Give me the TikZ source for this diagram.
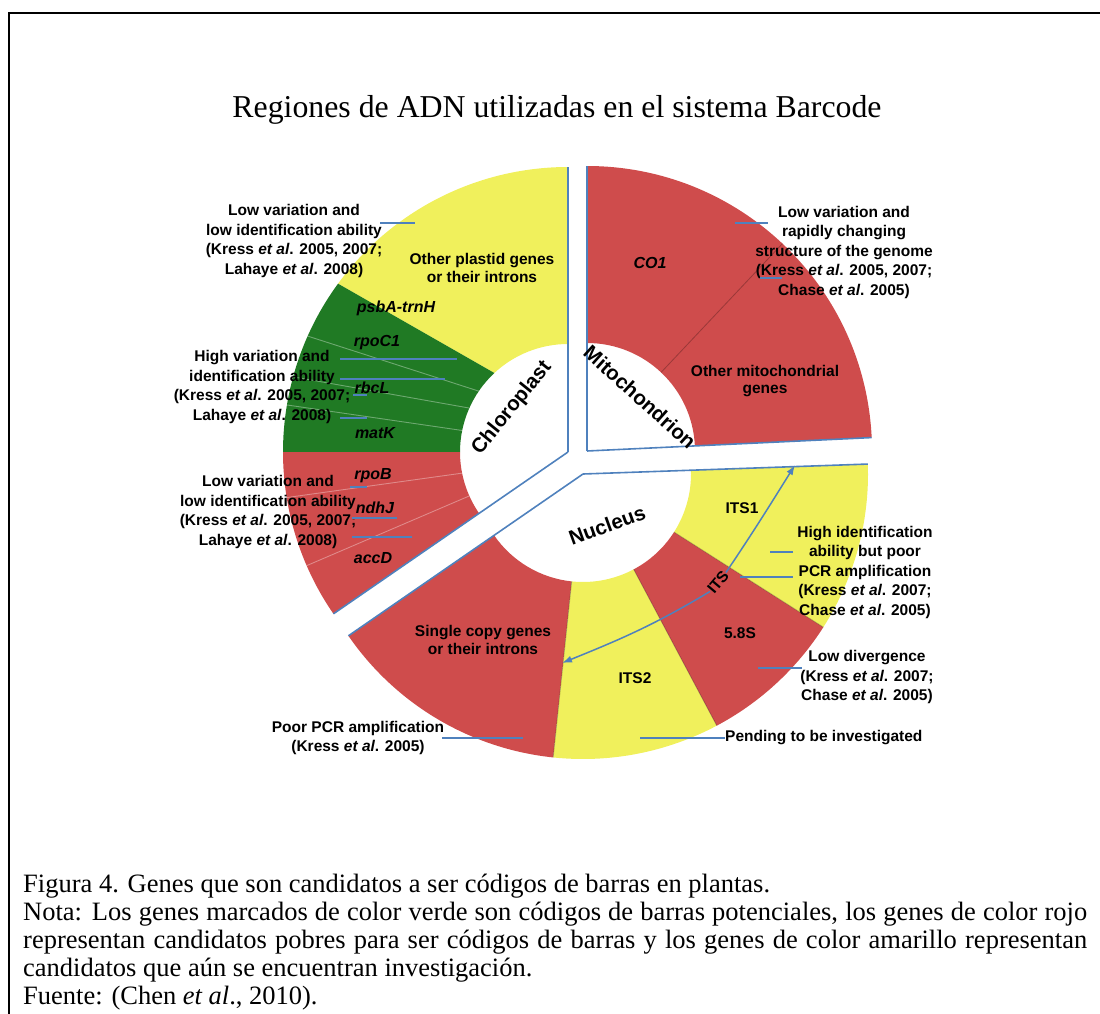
\documentclass[tikz,border=0pt]{standalone}
\usepackage{fontspec}
\setmainfont{Liberation Serif}
\setsansfont{Liberation Sans}
\usepackage{tikz}
\usetikzlibrary{arrows.meta}
\definecolor{slicered}{RGB}{207,76,76}
\definecolor{sliceyellow}{RGB}{240,240,92}
\definecolor{slicegreen}{RGB}{32,122,36}
\definecolor{edgeblue}{RGB}{79,129,189}

\begin{document}
\begin{tikzpicture}[x=1pt,y=1pt,
    note/.style={font=\sffamily\bfseries\fontsize{15.5}{19.5}\selectfont,align=center,inner sep=0pt},
    gene/.style={font=\sffamily\bfseries\itshape\fontsize{16}{19}\selectfont,inner sep=0pt},
    part/.style={font=\sffamily\bfseries\fontsize{15.5}{17.5}\selectfont,align=center,inner sep=0pt},
    organelle/.style={font=\sffamily\bfseries\fontsize{20.5}{24}\selectfont,inner sep=0pt},
    caption/.style={font=\fontsize{26.5}{28}\selectfont,inner sep=0pt,anchor=base west},
    lead/.style={edgeblue,line width=1.2pt},
    wall/.style={edgeblue,line width=1.6pt},
    seam/.style={white,opacity=0.35,line width=0.9pt},
    darkseam/.style={black,opacity=0.25,line width=0.8pt},
    itsarrow/.style={edgeblue,line width=1.5pt,-{Latex[length=10pt,width=7pt]}}]
\useasboundingbox (0,0) rectangle (1100,-1014);
% frame
\draw[line width=2.5pt] (9,-1014) -- (9,-13) -- (1100,-13);
\node[font=\fontsize{31.8}{36}\selectfont,anchor=base,inner sep=0pt] (title) at (557,-118) {Regiones de ADN utilizadas en el sistema Barcode};

% chloroplast
\begin{scope}[shift={(568,-452)}]
  \fill[sliceyellow] (90:285) arc[start angle=90,end angle=143.8,radius=285] -- (133:108) arc[start angle=133,end angle=90,radius=108] -- cycle;
  \fill[slicegreen] (143.8:285) arc[start angle=143.8,end angle=180,radius=285] -- (180:108) arc[start angle=180,end angle=133,radius=108] -- cycle;
  \fill[slicered] (180:285) arc[start angle=180,end angle=214.6,radius=285] -- (214.6:108) arc[start angle=214.6,end angle=180,radius=108] -- cycle;
  \draw[seam] (156:285) -- (145.7:108);
  \draw[seam] (164.7:285) -- (156:108);
  \draw[seam] (170.5:285) -- (168.5:108);
  \draw[seam] (189.2:285) -- (191.3:108);
  \draw[seam] (203.5:285) -- (204:108);
  \draw[wall] (0,0) -- (90:285);
  \draw[wall] (0,0) -- (214.6:285);
\end{scope}

% mitochondrion
\begin{scope}[shift={(587,-451)}]
  \fill[slicered] (2.7:285) arc[start angle=2.7,end angle=90,radius=285] -- (90:108) arc[start angle=90,end angle=2.7,radius=108] -- cycle;
  \draw[darkseam] (46.7:108) -- (46.7:285);
  \draw[wall] (0,0) -- (90:285);
  \draw[wall] (0,0) -- (2.7:285);
\end{scope}

% nucleus
\begin{scope}[shift={(583,-474)}]
  \fill[slicered] (214.6:285) arc[start angle=214.6,end angle=264,radius=285] -- (264:108) arc[start angle=264,end angle=214.6,radius=108] -- cycle;
  \fill[sliceyellow] (264:285) arc[start angle=264,end angle=298,radius=285] -- (298:108) arc[start angle=298,end angle=264,radius=108] -- cycle;
  \fill[slicered] (298:285) arc[start angle=298,end angle=327.5,radius=285] -- (327.5:108) arc[start angle=327.5,end angle=298,radius=108] -- cycle;
  \fill[sliceyellow] (327.5:285) arc[start angle=327.5,end angle=362,radius=285] -- (362:108) arc[start angle=362,end angle=327.5,radius=108] -- cycle;
  \draw[darkseam] (264:108) -- (264:285);
  \draw[darkseam] (298:108) -- (298:285);
  \draw[darkseam] (327.5:108) -- (327.5:285);
  \draw[wall] (0,0) -- (214.6:285);
  \draw[wall] (0,0) -- (2:285);
\end{scope}

% organelle names
\node[organelle,rotate=51] (chloro) at (512,-408) {Chloroplast};
\node[organelle,rotate=-42] (mito) at (640,-397) {Mitochondrion};
\node[organelle,rotate=20] (nucleus) at (607,-525) {Nucleus};

% gene names
\node[part] (plastid) at (482,-268) {Other plastid genes\\or their introns};
\node[gene] (psbA) at (396,-308) {psbA-trnH};
\node[gene] (rpoC) at (377,-343) {rpoC1};
\node[gene] (rbcL) at (372,-388) {rbcL};
\node[gene] (matK) at (375,-433) {matK};
\node[gene] (rpoB) at (373,-476) {rpoB};
\node[gene] (ndhJ) at (375,-508) {ndhJ};
\node[gene] (accD) at (373,-558) {accD};
\node[gene] (coi) at (650,-263) {CO1};
\node[part] (othermito) at (765,-381) {Other mitochondrial\\genes};
\node[part] (single) at (483,-640) {Single copy genes\\or their introns};
\node[part] (its1) at (742,-508) {ITS1};
\node[part] (its58) at (740,-633) {5.8S};
\node[part] (its2) at (635,-678) {ITS2};
\node[part,rotate=50] (its) at (718,-582) {ITS};

% ITS span
\coordinate (itsTop) at (795,-465);
\coordinate (itsLow) at (562,-663);
\draw[itsarrow] (its.east) to[out=56,in=238] (itsTop);
\draw[itsarrow] (its.west) to[out=211,in=22] (itsLow);

% notes
\node[note] (lowA) at (294,-241) {Low variation and\\low identification ability\\(Kress \textit{et al}. 2005, 2007;\\Lahaye \textit{et al}. 2008)};
\node[note] (highB) at (262,-387) {High variation and\\identification ability\\(Kress \textit{et al}. 2005, 2007;\\Lahaye \textit{et al}. 2008)};
\node[note] (lowC) at (268,-512) {Low variation and\\low identification ability\\(Kress \textit{et al}. 2005, 2007;\\Lahaye \textit{et al}. 2008)};
\node[note] (poorD) at (358,-738) {Poor PCR amplification\\(Kress \textit{et al}. 2005)};
\node[note] (lowE) at (844,-252) {Low variation and\\rapidly changing\\structure of the genome\\(Kress \textit{et al}. 2005, 2007;\\Chase \textit{et al}. 2005)};
\node[note] (highF) at (865,-572) {High identification\\ability but poor\\PCR amplification\\(Kress \textit{et al}. 2007;\\Chase \textit{et al}. 2005)};
\node[note] (lowG) at (867,-677) {Low divergence\\(Kress \textit{et al}. 2007;\\Chase \textit{et al}. 2005)};
\node[note,anchor=west] (pendH) at (725,-738) {Pending to be investigated};

% leaders
\coordinate (a1) at (380,-223); \coordinate (a2) at (415,-223);
\coordinate (b1) at (340,-359); \coordinate (b2) at (457,-359);
\coordinate (b3) at (340,-379); \coordinate (b4) at (445,-379);
\coordinate (b5) at (353,-395); \coordinate (b6) at (367,-395);
\coordinate (b7) at (340,-418); \coordinate (b8) at (367,-418);
\coordinate (c1) at (350,-487); \coordinate (c2) at (367,-487);
\coordinate (c3) at (352,-518); \coordinate (c4) at (397,-518);
\coordinate (c5) at (352,-537); \coordinate (c6) at (412,-537);
\coordinate (d1) at (442,-738); \coordinate (d2) at (523,-738);
\coordinate (e1) at (735,-223); \coordinate (e2) at (768,-223);
\coordinate (e3) at (760,-278); \coordinate (e4) at (782,-278);
\coordinate (f1) at (770,-552); \coordinate (f2) at (793,-552);
\coordinate (f3) at (740,-577); \coordinate (f4) at (793,-577);
\coordinate (g1) at (758,-668); \coordinate (g2) at (802,-668);
\coordinate (h1) at (640,-738);
\draw[lead] (a1) -- (a2);
\draw[lead] (b1) -- (b2);
\draw[lead] (b3) -- (b4);
\draw[lead] (b5) -- (b6);
\draw[lead] (b7) -- (b8);
\draw[lead] (c1) -- (c2);
\draw[lead] (c3) -- (c4);
\draw[lead] (c5) -- (c6);
\draw[lead] (d1) -- (d2);
\draw[lead] (e1) -- (e2);
\draw[lead] (e3) -- (e4);
\draw[lead] (f1) -- (f2);
\draw[lead] (f3) -- (f4);
\draw[lead] (g1) -- (g2);
\draw[lead] (h1) -- (pendH.west);

% caption
\node[caption] (fig) at (23,-892) {Figura 4. Genes que son candidatos a ser códigos de barras en plantas.};
\node[caption] (nota1) at (23,-920) {\makebox[1064pt][s]{Nota: Los genes marcados de color verde son códigos de barras potenciales, los genes de color rojo}};
\node[caption] (nota2) at (23,-948) {\makebox[1064pt][s]{representan candidatos pobres para ser códigos de barras y los genes de color amarillo representan}};
\node[caption] (nota3) at (23,-976) {candidatos que aún se encuentran investigación.};
\node[caption] (source) at (23,-1004) {Fuente: (Chen \textit{et al}., 2010).};
\end{tikzpicture}
\end{document}
